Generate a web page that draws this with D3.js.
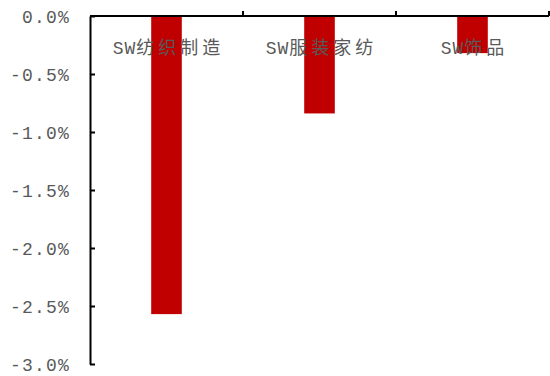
<!DOCTYPE html>
<html>
<head>
<meta charset="utf-8">
<script src="https://cdn.jsdelivr.net/npm/d3@7"></script>
<style>
  body { margin: 0; background: #fff; }
  .axis path, .axis line { stroke: #000; stroke-width: 2px; }
  .ylab { font-family: "Liberation Mono", monospace; font-size: 18px; fill: #595959; letter-spacing: 1.2px; }
  .xlab { font-family: "Liberation Mono", "Noto Sans CJK SC", monospace; font-size: 18px; fill: #595959; }
  .latin { letter-spacing: 1px; }
  .cjk { letter-spacing: 4px; }
</style>
</head>
<body>
<script>
// chart data
var categories = ["SW纺织制造", "SW服装家纺", "SW饰品"];
var values = [-2.57, -0.84, -0.32];
var tickValues = [0, -0.5, -1.0, -1.5, -2.0, -2.5, -3.0];
var tickLabels = ["0.0%", "-0.5%", "-1.0%", "-1.5%", "-2.0%", "-2.5%", "-3.0%"];

var totalWidth = 550, totalHeight = 376;
var margin = {top: 16, right: 1, bottom: 12, left: 90};
var barColor = "#C00000";

var svg = d3.select("body").append("svg")
    .attr("width", totalWidth)
    .attr("height", totalHeight);

var y = d3.scaleLinear()
    .domain([0, -3])
    .range([margin.top, totalHeight - margin.bottom]);

// bars sit in the middle of each category slot
var x = d3.scaleBand()
    .domain(categories)
    .range([margin.left, totalWidth - margin.right])
    .paddingInner(0.8)
    .paddingOuter(0.4);

// slots without padding, used for the boundary ticks
var slot = d3.scaleBand()
    .domain(categories)
    .range([margin.left, totalWidth - margin.right]);

svg.append("g")
    .selectAll("rect")
    .data(values)
    .enter()
    .append("rect")
    .attr("x", (d, i) => x(categories[i]))
    .attr("width", x.bandwidth())
    .attr("y", y(0))
    .attr("height", d => y(d) - y(0))
    .attr("fill", barColor);

// y axis, ticks pointing inward
var yAxis = d3.axisLeft(y)
    .tickValues(tickValues)
    .tickFormat((d, i) => tickLabels[i])
    .tickSizeInner(-5)
    .tickSizeOuter(0)
    .tickPadding(20);

var yg = svg.append("g")
    .attr("class", "axis")
    .attr("transform", "translate(" + margin.left + ",0)")
    .call(yAxis);
yg.selectAll("text").attr("class", "ylab").attr("dy", "0.35em");

// top axis line at zero with ticks at the category boundaries
var xg = svg.append("g").attr("class", "axis");
xg.append("line")
    .attr("x1", margin.left)
    .attr("x2", totalWidth - margin.right)
    .attr("y1", y(0))
    .attr("y2", y(0));
xg.selectAll(".bound")
    .data(categories)
    .enter()
    .append("line")
    .attr("class", "bound")
    .attr("x1", d => slot(d) + slot.bandwidth())
    .attr("x2", d => slot(d) + slot.bandwidth())
    .attr("y1", y(0))
    .attr("y2", y(0) - 5);

// category labels drawn over the bars
var labels = svg.append("g")
    .selectAll("text")
    .data(categories)
    .enter()
    .append("text")
    .attr("class", "xlab")
    .attr("x", d => slot(d) + slot.bandwidth() / 2 + 2)
    .attr("y", 48)
    .attr("dy", "0.35em")
    .attr("text-anchor", "middle");
labels.append("tspan").attr("class", "latin").text(d => d.slice(0, 2));
labels.append("tspan").attr("class", "cjk").text(d => d.slice(2));
</script>
</body>
</html>
